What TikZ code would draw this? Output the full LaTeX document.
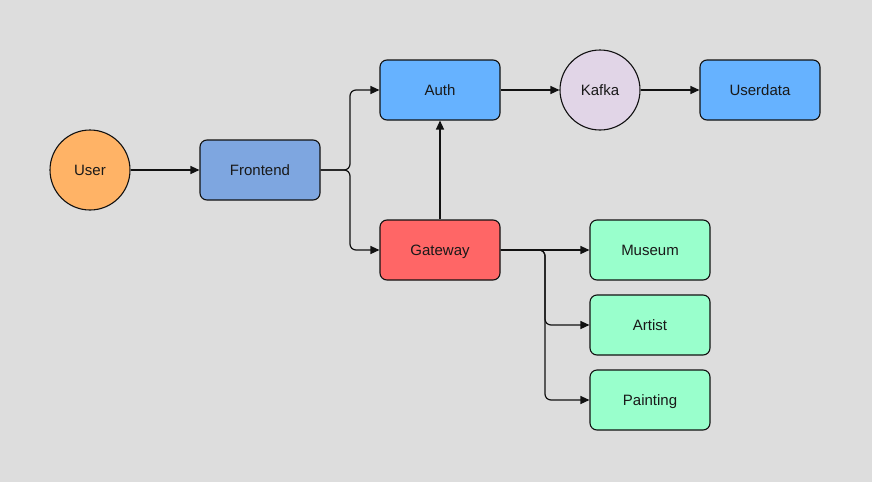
\documentclass[tikz,border=0pt]{standalone}
\usepackage{fontspec}
\setmainfont{Liberation Sans}
\usetikzlibrary{arrows.meta}
\definecolor{bg}{HTML}{DDDDDD}
\definecolor{userc}{HTML}{FFB366}
\definecolor{frontc}{HTML}{7EA6E0}
\definecolor{bluec}{HTML}{66B2FF}
\definecolor{kafkac}{HTML}{E1D5E7}
\definecolor{gatec}{HTML}{FF6666}
\definecolor{greenc}{HTML}{99FFCC}
\definecolor{linec}{HTML}{111111}
\begin{document}
\begin{tikzpicture}[x=1pt,y=-1pt,
  every node/.style={font=\fontsize{15}{18}\selectfont, text=black!90, text height=10pt, text depth=0pt},
  box/.style={draw=linec, line width=1.1pt, rounded corners=7pt, minimum width=120pt, minimum height=60pt, inner sep=0pt},
  circ/.style={draw=linec, line width=1.1pt, circle, minimum size=80pt, inner sep=0pt},
  conn/.style={draw=linec, line width=1.2pt, -{Triangle[length=9pt,width=8pt]}, rounded corners=6pt}]
\fill[bg] (0,0) rectangle (872,482);
\useasboundingbox (0,0) rectangle (872,482);
\node[circ, fill=userc] (user) at (90,170) {User};
\node[box, fill=frontc] (front) at (260,170) {Frontend};
\node[box, fill=bluec] (auth) at (440,90) {Auth};
\node[circ, fill=kafkac] (kafka) at (600,90) {Kafka};
\node[box, fill=bluec] (userdata) at (760,90) {Userdata};
\node[box, fill=gatec] (gate) at (440,250) {Gateway};
\node[box, fill=greenc] (museum) at (650,250) {Museum};
\node[box, fill=greenc] (artist) at (650,325) {Artist};
\node[box, fill=greenc] (painting) at (650,400) {Painting};
\draw[conn] (user) -- (front);
\draw[conn] (front.east) -- (350,170) -- (350,90) -- (auth.west);
\draw[conn] (front.east) -- (350,170) -- (350,250) -- (gate.west);
\draw[conn] (gate) -- (auth);
\draw[conn] (auth) -- (kafka);
\draw[conn] (kafka) -- (userdata);
\draw[conn] (gate) -- (museum);
\draw[conn] (gate.east) -- (545,250) -- (545,325) -- (artist.west);
\draw[conn] (gate.east) -- (545,250) -- (545,400) -- (painting.west);
\end{tikzpicture}
\end{document}
